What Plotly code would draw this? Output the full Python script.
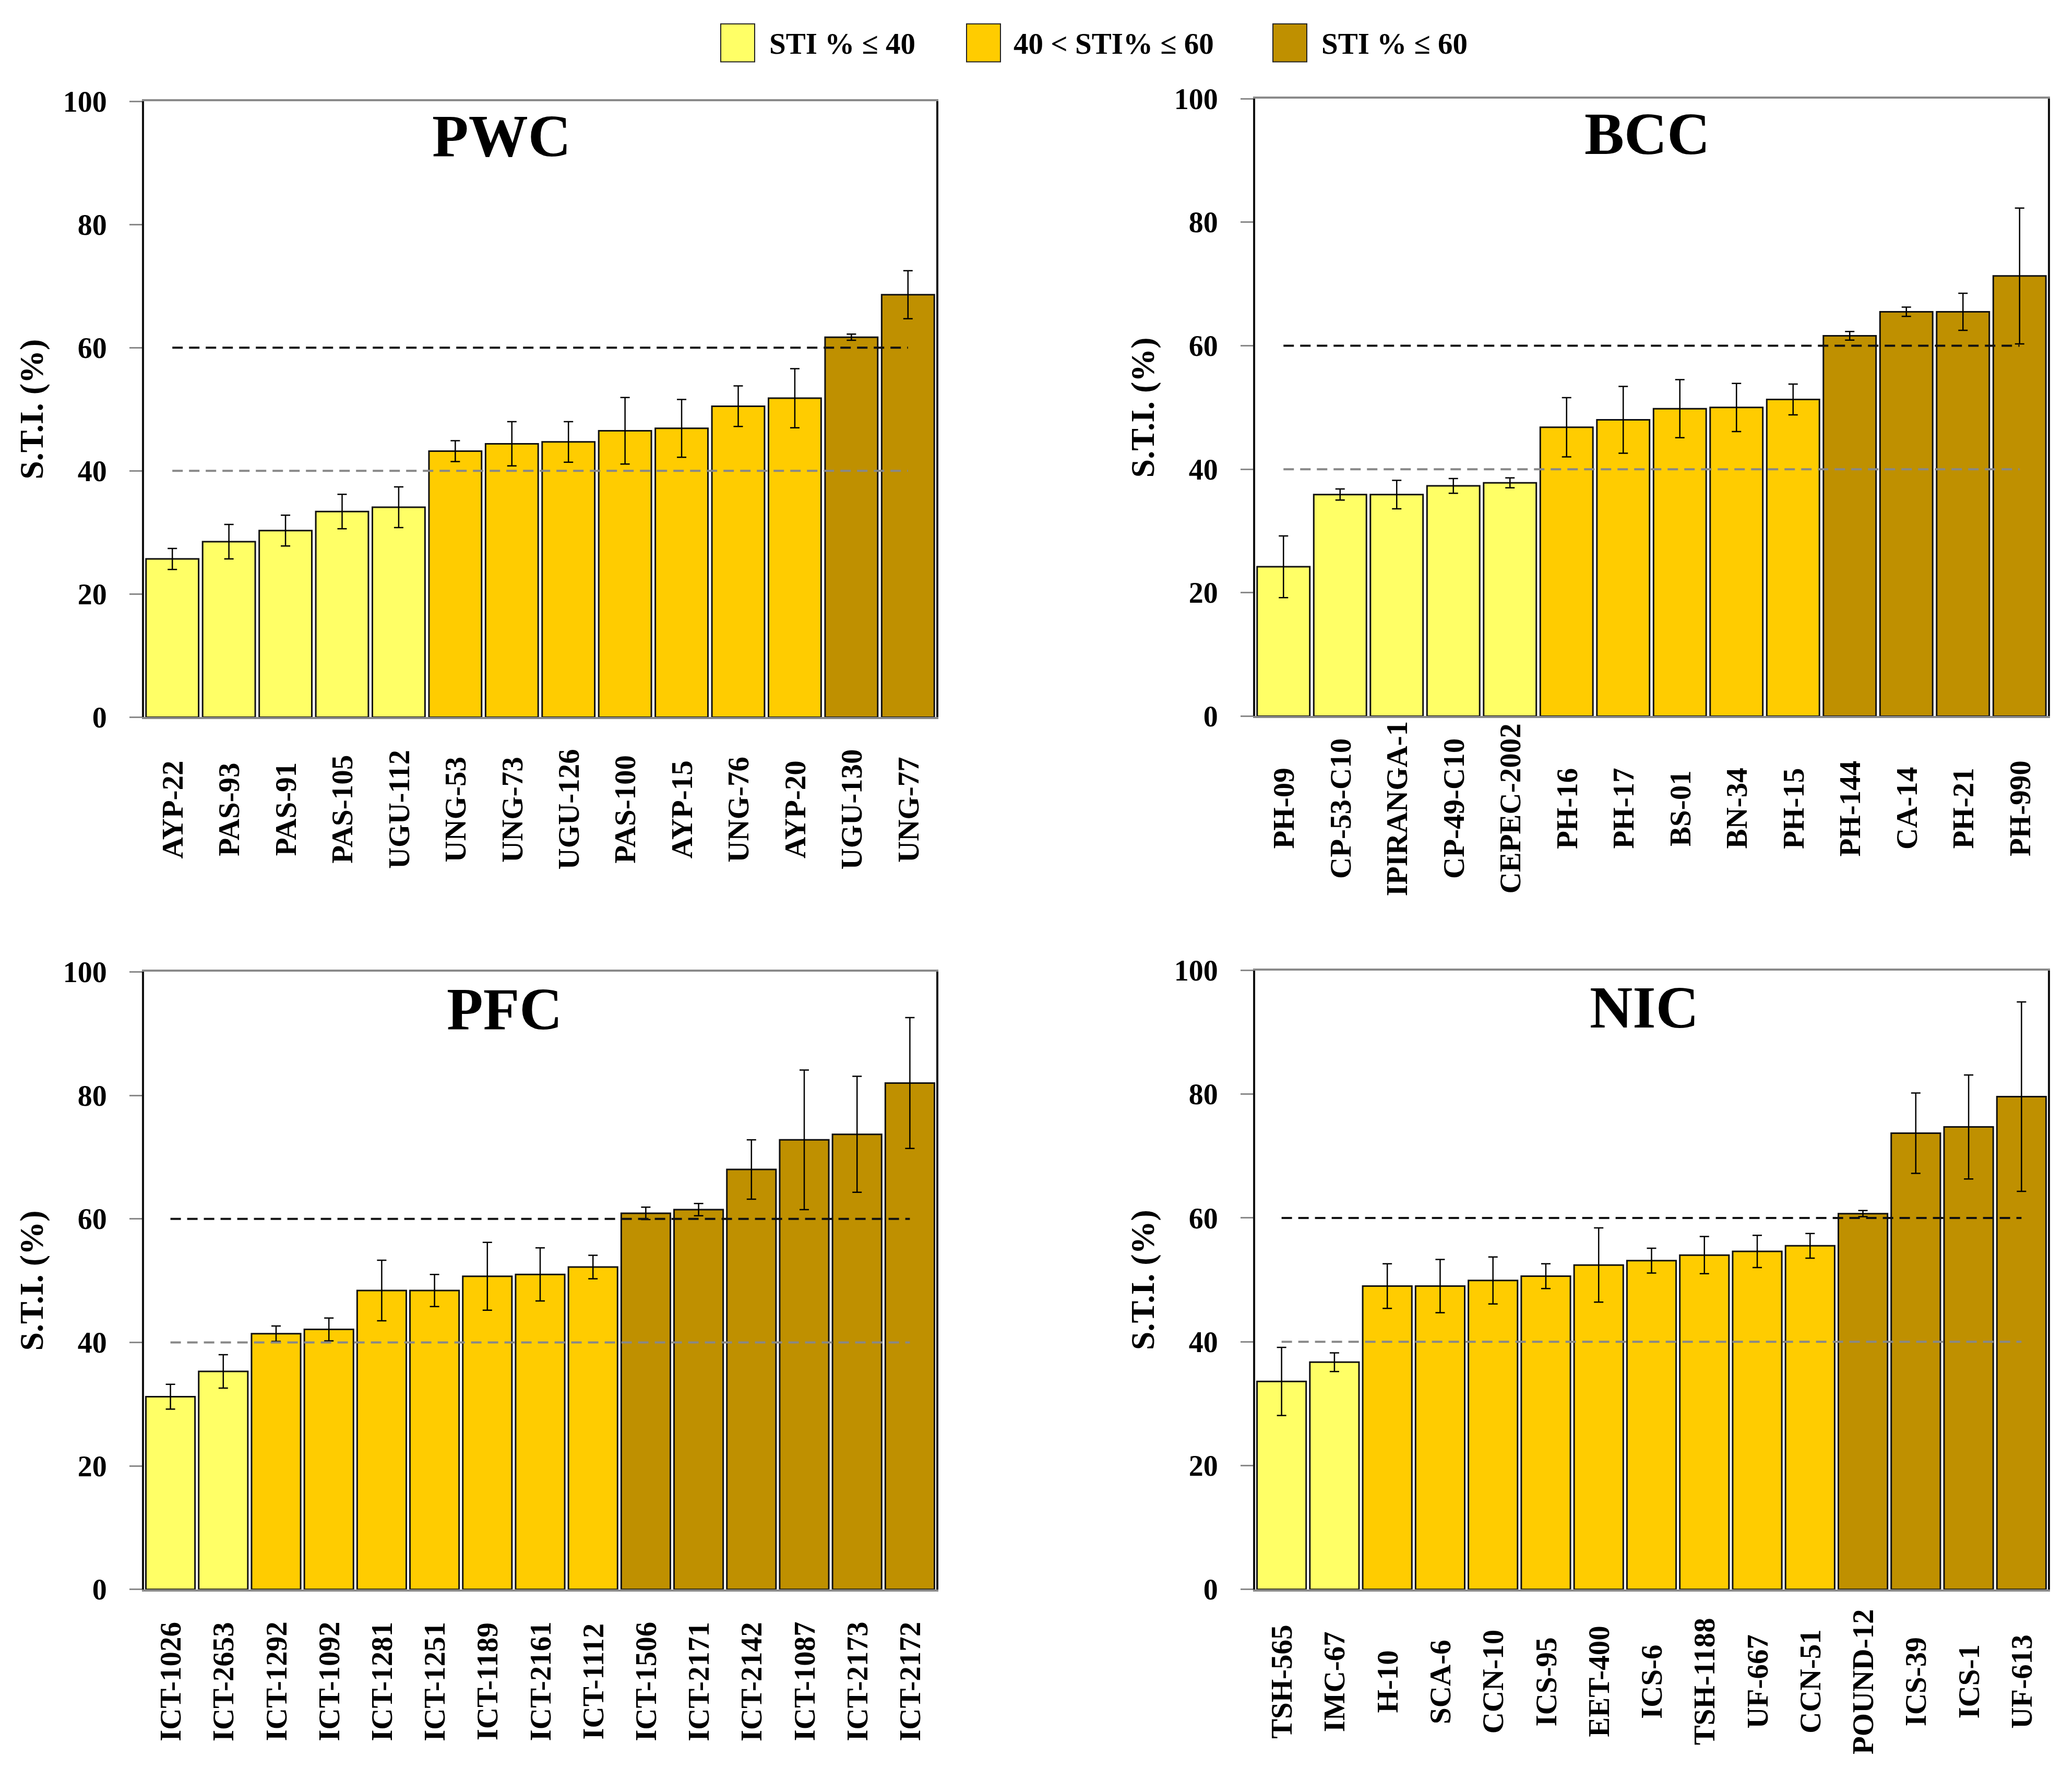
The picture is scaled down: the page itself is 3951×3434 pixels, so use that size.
import plotly.graph_objects as go

# ---------------- data ----------------
PWC_CATS = ["AYP-22", "PAS-93", "PAS-91", "PAS-105", "UGU-112", "UNG-53", "UNG-73",
            "UGU-126", "PAS-100", "AYP-15", "UNG-76", "AYP-20", "UGU-130", "UNG-77"]
PWC_VALS = [25.7, 28.5, 30.3, 33.4, 34.1, 43.2, 44.4, 44.7, 46.5, 46.9, 50.5, 51.8, 61.7, 68.6]
PWC_ERRS = [1.7, 2.8, 2.5, 2.8, 3.3, 1.7, 3.6, 3.3, 5.4, 4.7, 3.3, 4.8, 0.5, 3.9]

BCC_CATS = ["PH-09", "CP-53-C10", "IPIRANGA-1", "CP-49-C10", "CEPEC-2002", "PH-16", "PH-17",
            "BS-01", "BN-34", "PH-15", "PH-144", "CA-14", "PH-21", "PH-990"]
BCC_VALS = [24.2, 35.9, 35.9, 37.3, 37.8, 46.8, 48.0, 49.8, 50.0, 51.3, 61.6, 65.5, 65.5, 71.3]
BCC_ERRS = [5.0, 0.9, 2.3, 1.2, 0.8, 4.8, 5.4, 4.7, 3.9, 2.5, 0.7, 0.75, 3.0, 11.0]

PFC_CATS = ["ICT-1026", "ICT-2653", "ICT-1292", "ICT-1092", "ICT-1281", "ICT-1251", "ICT-1189",
            "ICT-2161", "ICT-1112", "ICT-1506", "ICT-2171", "ICT-2142", "ICT-1087", "ICT-2173",
            "ICT-2172"]
PFC_VALS = [31.2, 35.3, 41.4, 42.1, 48.4, 48.4, 50.7, 51.0, 52.2, 60.9, 61.5, 68.0, 72.8, 73.7, 82.0]
PFC_ERRS = [2.0, 2.7, 1.25, 1.85, 4.9, 2.6, 5.5, 4.3, 1.9, 1.0, 1.0, 4.8, 11.3, 9.4, 10.6]

NIC_CATS = ["TSH-565", "IMC-67", "H-10", "SCA-6", "CCN-10", "ICS-95", "EET-400", "ICS-6",
            "TSH-1188", "UF-667", "CCN-51", "POUND-12", "ICS-39", "ICS-1", "UF-613"]
NIC_VALS = [33.6, 36.7, 49.0, 49.0, 49.9, 50.6, 52.4, 53.1, 54.0, 54.6, 55.5, 60.7, 73.7, 74.7, 79.6]
NIC_ERRS = [5.5, 1.5, 3.6, 4.3, 3.8, 2.0, 6.0, 2.0, 3.0, 2.6, 2.0, 0.5, 6.5, 8.4, 15.3]

PANEL_TITLES = ["PWC", "BCC", "PFC", "NIC"]
LEGEND_LABELS = ["STI % \u2264 40", "40 < STI% \u2264 60", "STI % \u2264 60"]
THRESHOLDS = [40, 60]
Y_TICKS = [0, 20, 40, 60, 80, 100]
Y_TITLE = "S.T.I. (%)"

# ---------------- style ----------------
COLORS = ["#FFFF66", "#FFCC00", "#BF9000"]
FONT = "Liberation Serif"
W, H = 3951, 3434

panels = [
    (PWC_CATS, PWC_VALS, PWC_ERRS),
    (BCC_CATS, BCC_VALS, BCC_ERRS),
    (PFC_CATS, PFC_VALS, PFC_ERRS),
    (NIC_CATS, NIC_VALS, NIC_ERRS),
]
# pixel boxes: (left, right, top, bottom)
boxes = [(268, 1786, 159, 1361), (2397, 3916, 154, 1359),
         (268, 1786, 1858, 3063), (2397, 3916, 1855, 3063)]
title_x = [0.451, 0.495, 0.455, 0.491]
title_y = [0.944, 0.943, 0.940, 0.940]
LABEL_DROP = 180  # px below axis where rotated category labels are centred


def group_of(v):
    if v <= THRESHOLDS[0]:
        return 0
    if v <= THRESHOLDS[1]:
        return 1
    return 2


fig = go.Figure()
layout = dict(width=W, height=H, margin=dict(l=0, r=0, t=0, b=0),
              paper_bgcolor="white", plot_bgcolor="white",
              barmode="overlay", bargap=0.07, showlegend=False,
              font=dict(family=FONT, color="black"))
annotations = []
shapes = []

for i, ((cats, vals, errs), (l, r, t, b)) in enumerate(zip(panels, boxes)):
    sfx = "" if i == 0 else str(i + 1)
    xa, ya = "x" + sfx, "y" + sfx
    for g in range(3):
        idx = [k for k, v in enumerate(vals) if group_of(v) == g]
        fig.add_trace(go.Bar(
            x=[cats[k] for k in idx], y=[vals[k] for k in idx],
            error_y=dict(type="data", array=[errs[k] for k in idx], color="black",
                         thickness=2.5, width=9),
            marker=dict(color=COLORS[g], line=dict(color="#111111", width=3)),
            xaxis=xa, yaxis=ya, name=LEGEND_LABELS[g]))
    for th, col in zip(THRESHOLDS, ["#888888", "#111111"]):
        fig.add_trace(go.Scatter(x=[cats[0], cats[-1]], y=[th, th], mode="lines",
                                 line=dict(color=col, width=4, dash="20px,12px"),
                                 xaxis=xa, yaxis=ya, hoverinfo="skip"))
    xd = [l / W, r / W]
    yd = [1 - b / H, 1 - t / H]
    layout["xaxis" + sfx] = dict(
        domain=xd, anchor=ya, type="category", categoryorder="array", categoryarray=cats,
        range=[-0.5, len(cats) - 0.5], ticks="", showgrid=False, showticklabels=False,
        showline=True, mirror=True, linecolor="#8a8a8a", linewidth=4, zeroline=False)
    layout["yaxis" + sfx] = dict(
        domain=yd, anchor=xa, range=[0, 100], tickvals=Y_TICKS, ticks="outside",
        ticklen=24, tickwidth=3, tickcolor="#8a8a8a", showgrid=False, zeroline=False,
        showline=True, mirror=True, linecolor="#111111", linewidth=4,
        tickfont=dict(family=FONT, size=56, weight="bold", color="black"),
        ticklabelstandoff=32,
        title=dict(text=Y_TITLE, font=dict(family=FONT, size=64, weight="bold"), standoff=18))
    # rotated category labels, centred below each bar (placed on the category axis)
    for c in cats:
        annotations.append(dict(text=c, xref=xa, yref=ya + " domain", x=c,
                                y=-LABEL_DROP / (b - t), textangle=-90,
                                xanchor="center", yanchor="middle", showarrow=False,
                                font=dict(family=FONT, size=57, weight="bold", color="black")))
    annotations.append(dict(text=PANEL_TITLES[i], xref=xa + " domain", yref=ya + " domain",
                            x=title_x[i], y=title_y[i], xanchor="center", yanchor="middle",
                            showarrow=False,
                            font=dict(family=FONT, size=114, weight="bold", color="black")))

# ---------------- legend (drawn manually to match large swatches) ----------------
sw_left = [1373, 1844, 2431]
txt_left = [1464, 1932, 2522]
for g in range(3):
    shapes.append(dict(type="rect", xref="paper", yref="paper",
                       x0=sw_left[g] / W, x1=(sw_left[g] + 65) / W,
                       y0=1 - 82 / H, y1=1 - 8 / H,
                       fillcolor=COLORS[g], line=dict(color="#222222", width=2)))
    annotations.append(dict(text=LEGEND_LABELS[g], xref="paper", yref="paper",
                            x=txt_left[g] / W, y=1 - 46 / H, xanchor="left", yanchor="middle",
                            showarrow=False,
                            font=dict(family=FONT, size=57, weight="bold", color="black")))

layout["annotations"] = annotations
layout["shapes"] = shapes
fig.update_layout(**layout)
fig.write_html("out.html")
